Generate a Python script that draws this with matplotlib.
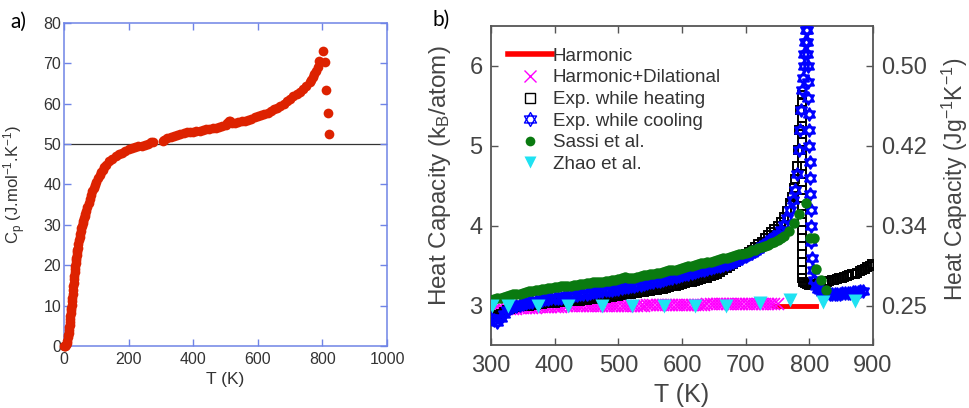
import numpy as np
import matplotlib
matplotlib.use('Agg')
import matplotlib.pyplot as plt
from matplotlib.path import Path
from matplotlib.lines import Line2D

plt.rcParams['font.family'] = ['Liberation Sans', 'DejaVu Sans']
plt.rcParams['mathtext.fontset'] = 'custom'
plt.rcParams['mathtext.rm'] = 'Liberation Sans'
plt.rcParams['mathtext.it'] = 'Liberation Sans'
plt.rcParams['mathtext.default'] = 'regular'

# ---- panel a: Cp vs T ----
t_a = [0, 2, 4, 6, 8, 10, 12, 13, 14, 15, 16, 17, 18, 19, 20, 21, 22, 23, 24, 25, 26, 27, 28, 29,
       30, 31, 32, 33, 34, 35, 36, 37, 38, 39, 40, 41, 42, 44, 46, 48, 50, 52, 54, 56, 58,
       60, 62, 64, 66, 68, 72, 76, 80, 84, 88, 92, 96,
       100, 105, 110, 115, 120, 125, 130, 140, 150, 160, 170, 180, 190, 200, 210, 220,
       230, 240, 250, 260, 270, 275,
       305, 310, 320, 330, 340, 350, 360, 370, 380, 390, 400, 410, 420, 430, 440, 450,
       460, 470, 480, 490, 500, 505, 510, 515, 520, 530, 540, 550, 560, 570, 580, 590,
       600, 610, 620, 630, 640, 650, 660, 670, 680, 690, 700, 710, 720, 730, 740, 750,
       760, 765, 770, 775, 780, 785, 790, 801, 808, 812, 816, 820]
cp_a = [0.0, 0.0, 0.1, 0.3, 0.7, 1.3, 2.2, 2.7, 3.3, 3.9, 4.6, 5.3, 6.0, 6.7, 7.4, 8.1, 8.8, 9.5, 10.2, 11.1, 12.0, 12.9, 13.9, 14.8,
        15.7, 16.6, 17.4, 18.2, 19.0, 19.8, 20.5, 21.2, 21.9, 22.6, 23.2, 23.8, 24.3, 25.3, 26.2, 27.0, 27.8, 28.5, 29.2, 29.8, 30.4,
        31.0, 31.6, 32.2, 32.8, 33.4, 34.5, 35.5, 36.5, 37.4, 38.3, 39.1, 39.9,
        40.6, 41.5, 42.3, 43.0, 43.7, 44.3, 44.8, 45.7, 46.4, 47.0, 47.5, 47.9, 48.3, 48.7, 49.0, 49.3,
        49.6, 49.6, 49.8, 50.1, 50.4, 50.6,
        50.8, 51.0, 51.4, 51.7, 52.0, 52.3, 52.5, 52.7, 52.9, 53.0, 53.1, 53.2, 53.3, 53.5, 53.7, 53.8,
        54.0, 54.1, 54.3, 54.5, 54.7, 55.2, 55.7, 55.6, 55.3, 55.3, 55.4, 55.6, 55.8, 56.0, 56.3, 56.6,
        56.9, 57.1, 57.4, 57.8, 58.2, 58.6, 59.0, 59.5, 60.0, 60.6, 61.2, 61.8, 62.4, 63.0, 63.7, 64.4,
        65.3, 65.9, 66.6, 67.3, 68.2, 69.2, 70.6, 73.0, 70.3, 63.4, 57.7, 52.6]
ref_line_a = 50

# ---- panel b: heat capacity near the transition ----
harm_t = [745, 810]
harm_c = [2.99, 2.99]

dil_t = [300, 305, 310, 315, 320, 325, 330, 335, 340, 345, 350, 355, 360, 365, 370, 375,
         380, 385, 390, 395, 400, 405, 410, 415, 420, 425, 430, 435, 440, 445, 450, 455,
         460, 465, 470, 475, 480, 485, 490, 495, 500, 505, 510, 515, 520, 525, 530, 535,
         540, 545, 550, 555, 560, 565, 570, 575, 580, 585, 590, 595, 600, 605, 610, 615,
         620, 625, 630, 635, 640, 645, 650, 655, 660, 665, 670, 675, 680, 685, 690, 695,
         700, 705, 710, 715, 720, 725, 730, 735, 740, 745, 750]
dil_c = [2.94, 2.94, 2.95, 2.95, 2.95, 2.96, 2.96, 2.96, 2.96, 2.97, 2.97, 2.97, 2.97, 2.97, 2.97, 2.98,
         2.98, 2.98, 2.98, 2.98, 2.98, 2.98, 2.98, 2.99, 2.99, 2.99, 2.99, 2.99, 2.99, 2.99, 2.99, 2.99,
         2.99, 3.00, 3.00, 3.00, 3.00, 3.00, 3.00, 3.00, 3.00, 3.00, 3.00, 3.00, 3.00, 3.00, 3.00, 3.00,
         3.00, 3.01, 3.01, 3.01, 3.01, 3.01, 3.01, 3.01, 3.01, 3.01, 3.01, 3.01, 3.01, 3.01, 3.01, 3.01,
         3.01, 3.01, 3.01, 3.01, 3.02, 3.02, 3.02, 3.02, 3.02, 3.02, 3.02, 3.02, 3.02, 3.02, 3.02, 3.02,
         3.02, 3.02, 3.02, 3.02, 3.02, 3.02, 3.02, 3.02, 3.02, 3.02, 3.02]

heat_t = [300, 305, 310, 315, 320, 325, 330, 335, 340, 345, 350, 355, 360, 365, 370, 375,
          380, 385, 390, 395, 400, 405, 410, 415, 420, 425, 430, 435, 440, 445, 450, 455,
          460, 465, 470, 475, 480, 485, 490, 495, 500, 505, 510, 515, 520, 525, 530, 535,
          540, 545, 550, 555, 560, 565, 570, 575, 580, 585, 590, 595, 600, 605, 610, 615,
          620, 625, 630, 635, 640, 645, 650, 655, 660, 665, 670, 675, 680, 685, 690, 695,
          700, 705, 710, 715, 720, 725, 730, 735, 740, 745, 750,
          755, 760, 765, 770, 773, 776, 778, 780, 782, 784, 786, 788,
          789, 789, 789, 789, 789, 789, 789, 789, 789, 789, 789, 789, 789, 789, 789, 789,
          789, 789, 789, 789, 789, 789, 789,
          790, 793, 796, 799, 803, 807, 811, 815, 819, 823, 827, 831, 835, 839, 843, 847,
          851, 855, 859, 863, 867, 871, 875, 879, 883, 887, 891, 895, 899]
heat_c = [2.88, 2.87, 2.86, 2.89, 2.92, 2.94, 2.96, 2.97, 2.98, 2.99, 2.99, 3.00, 3.00, 3.01, 3.01, 3.02,
          3.02, 3.03, 3.03, 3.03, 3.03, 3.04, 3.04, 3.05, 3.05, 3.06, 3.06, 3.06, 3.06, 3.07, 3.07, 3.08,
          3.08, 3.09, 3.09, 3.10, 3.10, 3.11, 3.11, 3.12, 3.12, 3.13, 3.14, 3.15, 3.15, 3.16, 3.16, 3.17,
          3.17, 3.18, 3.18, 3.19, 3.20, 3.21, 3.21, 3.22, 3.23, 3.24, 3.25, 3.26, 3.27, 3.28, 3.29, 3.30,
          3.31, 3.32, 3.33, 3.34, 3.35, 3.37, 3.38, 3.40, 3.42, 3.44, 3.47, 3.49, 3.52, 3.55, 3.58, 3.61,
          3.64, 3.67, 3.70, 3.73, 3.77, 3.80, 3.84, 3.88, 3.92, 3.96, 4.00,
          4.05, 4.11, 4.19, 4.28, 4.36, 4.47, 4.58, 4.75, 4.95, 5.20, 5.45, 5.63,
          5.55, 5.45, 5.35, 5.25, 5.15, 5.05, 4.95, 4.85, 4.75, 4.65, 4.55, 4.45, 4.35, 4.25, 4.15, 4.05,
          3.95, 3.85, 3.75, 3.65, 3.55, 3.45, 3.35,
          3.30, 3.28, 3.27, 3.26, 3.26, 3.27, 3.27, 3.28, 3.29, 3.29, 3.30, 3.31, 3.32, 3.32, 3.33, 3.34,
          3.35, 3.36, 3.37, 3.38, 3.39, 3.40, 3.41, 3.43, 3.44, 3.46, 3.48, 3.50, 3.52]

cool_t = [300, 305, 310, 315, 320, 325, 330, 335, 340, 345, 350, 355, 360, 365, 370, 375,
          380, 385, 390, 395, 400, 405, 410, 415, 420, 425, 430, 435, 440, 445, 450, 455,
          460, 465, 470, 475, 480, 485, 490, 495, 500, 505, 510, 515, 520, 525, 530, 535,
          540, 545, 550, 555, 560, 565, 570, 575, 580, 585, 590, 595, 600, 605, 610, 615,
          620, 625, 630, 635, 640, 645, 650, 655, 660, 665, 670, 675, 680, 685, 690, 695,
          700, 705, 710, 715, 720, 725, 730, 735, 740, 745, 750,
          755, 760, 765, 770, 774, 777, 780, 783, 785, 787, 789, 790, 791, 792, 793, 794, 795,
          796, 796.5, 797, 797.5, 798, 798.5, 799, 799.5, 800, 800.5, 801, 801.5, 802, 802.5, 803,
          804, 805, 807, 810, 813, 816, 820, 824, 828, 832, 836, 840, 844, 848, 852, 856,
          860, 864, 868, 872, 876, 880, 884]
cool_c = [2.85, 2.82, 2.80, 2.84, 2.90, 2.94, 2.97, 2.99, 3.00, 3.01, 3.02, 3.03, 3.04, 3.05, 3.06, 3.06,
          3.07, 3.08, 3.08, 3.09, 3.09, 3.10, 3.10, 3.11, 3.12, 3.12, 3.13, 3.13, 3.14, 3.15, 3.15, 3.16,
          3.17, 3.17, 3.18, 3.18, 3.19, 3.19, 3.20, 3.21, 3.21, 3.22, 3.23, 3.23, 3.24, 3.25, 3.26, 3.26,
          3.27, 3.28, 3.29, 3.30, 3.31, 3.31, 3.32, 3.33, 3.34, 3.35, 3.36, 3.37, 3.38, 3.39, 3.40, 3.41,
          3.42, 3.43, 3.44, 3.45, 3.46, 3.47, 3.48, 3.49, 3.50, 3.51, 3.52, 3.53, 3.55, 3.56, 3.58, 3.60,
          3.62, 3.64, 3.66, 3.68, 3.71, 3.74, 3.77, 3.80, 3.83, 3.86, 3.90,
          3.95, 4.01, 4.09, 4.20, 4.32, 4.45, 4.65, 4.95, 5.20, 5.45, 5.70, 5.85, 6.00, 6.15, 6.30, 6.45, 6.60,
          6.45, 6.30, 6.15, 6.00, 5.80, 5.60, 5.40, 5.20, 5.00, 4.80, 4.60, 4.40, 4.20, 4.00, 3.80,
          3.60, 3.45, 3.32, 3.24, 3.21, 3.19, 3.17, 3.16, 3.16, 3.15, 3.15, 3.15, 3.15, 3.15, 3.16, 3.16,
          3.16, 3.16, 3.17, 3.17, 3.17, 3.18, 3.18]

sassi_t = [300, 305, 310, 315, 320, 325, 330, 335, 340, 345, 350, 355, 360, 365, 370, 375,
           380, 385, 390, 395, 400, 405, 410, 415, 420, 425, 430, 435, 440, 445, 450, 455,
           460, 465, 470, 475, 480, 485, 490, 495, 500, 505, 510, 515, 520, 525, 530, 535,
           540, 545, 550, 555, 560, 565, 570, 575, 580, 585, 590, 595, 600, 605, 610, 615,
           620, 625, 630, 635, 640, 645, 650, 655, 660, 665, 670, 675, 680, 685, 690, 695,
           700, 705, 710, 715, 720, 725, 730, 735, 740, 745, 750, 755, 760,
           768, 776, 784, 794, 801, 808, 811, 818, 826]
sassi_c = [3.07, 3.08, 3.09, 3.10, 3.11, 3.12, 3.13, 3.14, 3.15, 3.15, 3.16, 3.17, 3.18, 3.18, 3.19, 3.20,
           3.21, 3.21, 3.22, 3.22, 3.23, 3.23, 3.24, 3.24, 3.25, 3.25, 3.26, 3.26, 3.27, 3.27, 3.28, 3.28,
           3.29, 3.29, 3.30, 3.30, 3.31, 3.31, 3.32, 3.32, 3.33, 3.35, 3.36, 3.35, 3.35, 3.35, 3.36, 3.37,
           3.38, 3.38, 3.39, 3.40, 3.41, 3.41, 3.42, 3.43, 3.44, 3.44, 3.45, 3.46, 3.47, 3.48, 3.49, 3.50,
           3.51, 3.52, 3.53, 3.53, 3.54, 3.55, 3.56, 3.57, 3.58, 3.59, 3.60, 3.61, 3.62, 3.63, 3.64, 3.65,
           3.66, 3.67, 3.69, 3.70, 3.72, 3.73, 3.75, 3.76, 3.78, 3.80, 3.82, 3.84, 3.87,
           3.93, 4.03, 4.15, 4.29, 3.84, 3.84, 3.46, 3.32, 3.19]

zhao_t = [301, 327, 374, 421, 474, 522, 572, 620, 669, 723, 770, 822, 872]
zhao_c = [2.99, 2.99, 2.99, 3.00, 3.00, 3.00, 3.00, 3.00, 3.00, 3.03, 3.07, 3.05, 3.06]

right_ticks = [3, 4, 5, 6]
right_labels = ['0.25', '0.34', '0.42', '0.50']

for tt, cc in [(t_a, cp_a), (dil_t, dil_c), (heat_t, heat_c), (cool_t, cool_c), (sassi_t, sassi_c)]:
    assert len(tt) == len(cc), (len(tt), len(cc))

# six-pointed star marker (two triangles)
hexagram = Path([(0, 1), (-0.866, -0.5), (0.866, -0.5), (0, 1),
                 (0, -1), (0.866, 0.5), (-0.866, 0.5), (0, -1)],
                [Path.MOVETO, Path.LINETO, Path.LINETO, Path.CLOSEPOLY,
                 Path.MOVETO, Path.LINETO, Path.LINETO, Path.CLOSEPOLY])

fig = plt.figure(figsize=(9.7, 4.08), dpi=100)
ax1 = fig.add_axes([0.066, 0.152, 0.333, 0.7917])
ax2 = fig.add_axes([0.5062, 0.1532, 0.3938, 0.7831])

# panel a
blue_ax = '#6f84e6'
ax1.axhline(ref_line_a, color='#333333', lw=0.9, zorder=1)
ax1.plot(t_a, cp_a, 'o', color='#dd2200', ms=7, mec='none', clip_on=False, zorder=3)
ax1.set_xlim(0, 1000)
ax1.set_ylim(0, 80)
ax1.set_xticks([0, 200, 400, 600, 800, 1000])
ax1.set_yticks(range(0, 81, 10))
for s in ax1.spines.values():
    s.set_color(blue_ax)
    s.set_linewidth(1.1)
ax1.tick_params(direction='in', top=True, right=True, color=blue_ax, length=5, width=1,
                labelcolor='#333333', labelsize=11.5)
ax1.tick_params(axis='y', pad=2)
ax1.tick_params(axis='x', pad=4)
ax1.set_xlabel('T (K)', fontsize=12.5, color='#333333')
ax1.set_ylabel(r'C$_{p}$ (J.mol$^{-1}$.K$^{-1}$)', fontsize=12, color='#333333')
ax1.yaxis.set_label_coords(-0.11, 0.5)

# panel b
ax2.plot(harm_t, harm_c, color='#ff0000', lw=3.5, zorder=1)
ax2.plot(dil_t, dil_c, 'x', color='#ff00ff', ms=8.5, mew=1.2, zorder=2)
ax2.plot(heat_t, heat_c, 's', color='black', mfc='none', ms=6, mew=1.4, zorder=3)
ax2.plot(cool_t, cool_c, ls='none', marker=hexagram, color='#0000ff', mfc='none', ms=9, mew=1.5, zorder=4)
ax2.plot(sassi_t, sassi_c, 'o', color='#0a7a10', ms=7.5, mec='none', zorder=5)
ax2.plot(zhao_t, zhao_c, 'v', color='#1fe2f2', ms=9.5, mec='none', zorder=6)
ax2.set_xlim(300, 900)
ax2.set_ylim(2.5, 6.5)
ax2.set_xticks(range(300, 901, 100))
ax2.set_yticks(right_ticks)
gray = '#444444'
for s in ax2.spines.values():
    s.set_color('#555555')
    s.set_linewidth(1.3)
ax2.tick_params(direction='in', top=True, right=False, color='#555555', length=5, width=1,
                labelcolor=gray, labelsize=17)
ax2.tick_params(axis='y', pad=6)
ax2.tick_params(axis='x', pad=7)
ax2.set_xlabel('T (K)', fontsize=18, color=gray)
ax2.set_ylabel(r'Heat Capacity (k$_{B}$/atom)', fontsize=17.5, color=gray)
ax2.yaxis.set_label_coords(-0.10, 0.53)

ax3 = ax2.twinx()
ax3.set_ylim(ax2.get_ylim())
ax3.set_yticks(right_ticks)
ax3.set_yticklabels(right_labels)
ax3.tick_params(direction='in', color='#555555', length=5, width=1, labelcolor=gray,
                labelsize=17, pad=6)
for s in ax3.spines.values():
    s.set_visible(False)
ax3.set_ylabel(r'Heat Capacity (Jg$^{-1}$K$^{-1}$)', fontsize=16.5, color=gray)
ax3.yaxis.set_label_coords(1.175, 0.52)

handles = [
    Line2D([], [], color='#ff0000', lw=4),
    Line2D([], [], ls='none', marker='x', color='#ff00ff', ms=8, mew=1),
    Line2D([], [], ls='none', marker='s', color='black', mfc='none', ms=7, mew=1),
    Line2D([], [], ls='none', marker=hexagram, color='#0000ff', mfc='none', ms=10, mew=1),
    Line2D([], [], ls='none', marker='o', color='#0a7a10', ms=7, mec='none'),
    Line2D([], [], ls='none', marker='v', color='#1fe2f2', ms=9, mec='none'),
]
labels = ['Harmonic', 'Harmonic+Dilational', 'Exp. while heating', 'Exp. while cooling',
          'Sassi et al.', 'Zhao et al.']
leg = ax2.legend(handles, labels, loc='upper left', bbox_to_anchor=(0.044, 0.932),
                 frameon=False, fontsize=13.5, handlelength=2.35, handletextpad=0.05,
                 labelspacing=0.24, borderpad=0, borderaxespad=0)
for txt in leg.get_texts():
    txt.set_color('#333333')

fig.text(10 / 970, 1 - 28 / 408, 'a)', fontsize=15, family=['Lato', 'DejaVu Sans'])
fig.text(432 / 970, 1 - 26 / 408, 'b)', fontsize=15, family=['Lato', 'DejaVu Sans'])

fig.savefig('out.png', dpi=100)
